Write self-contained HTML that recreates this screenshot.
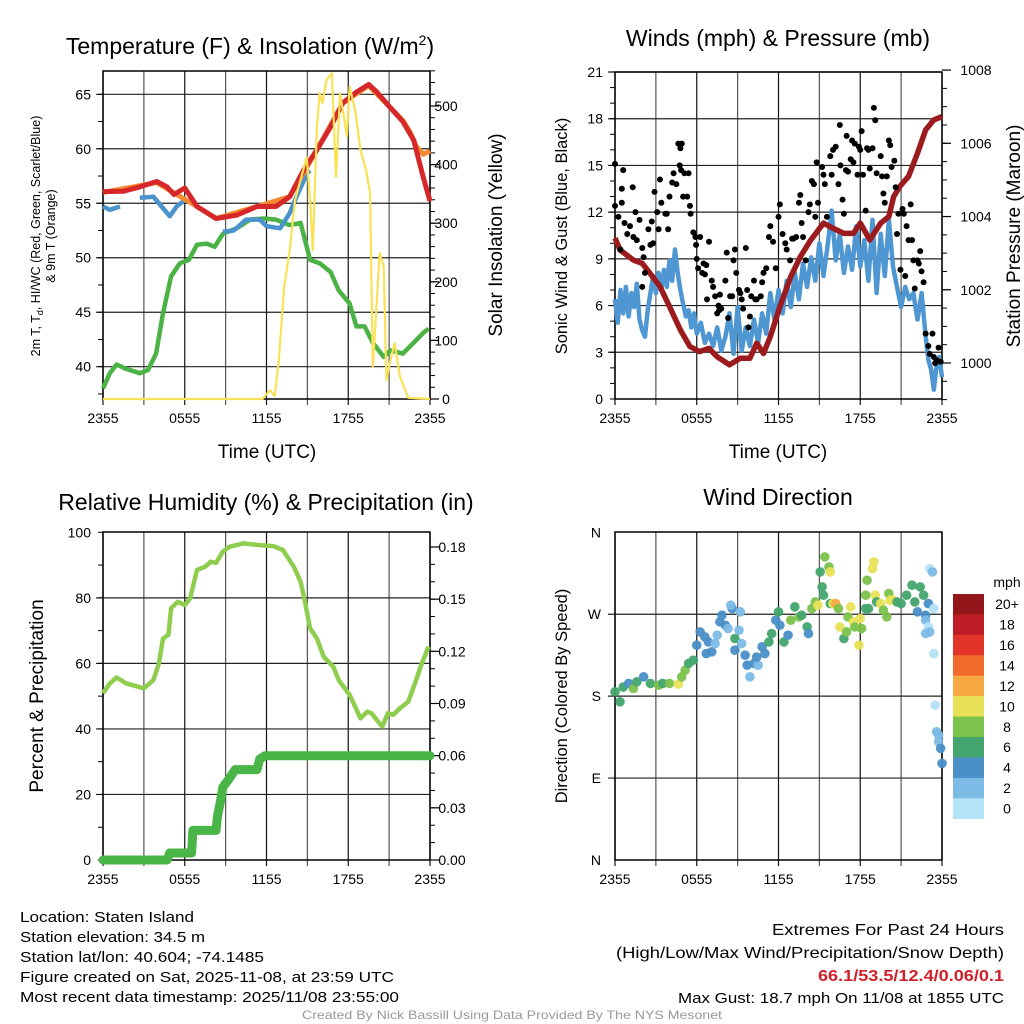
<!DOCTYPE html>
<html><head><meta charset="utf-8"><style>
html,body{margin:0;padding:0;background:#fff;}
svg{display:block;font-family:"Liberation Sans",Arial,sans-serif;}
</style></head><body>
<svg id="chart" width="1024" height="1024" viewBox="0 0 1024 1024" xmlns="http://www.w3.org/2000/svg"></svg>
<script>
// ---------- DATA ----------
const xTickLabels = ["2355","0555","1155","1755","2355"];
// Panel 1: temperature (F) & insolation
const tempHours = [0,1.5,2.7,3.94,4.7,5.2,6.0,6.9,8.3,9.8,11.3,12.7,13.7,14.7,15.7,16.7,17.6,18.6,19.5,20.1,21.0,22.0,22.8,23.5,24];
const tempVals  = [56.07,56.1,56.5,57,56.5,55.8,56.4,54.7,53.6,53.9,54.7,54.7,55.6,58,59.9,62,64.2,65.2,65.9,65.2,63.9,62.5,60.8,57.4,55.2];
const temp9mHours = [0,3.94,6.9,8.3,11.3,13.7,15.7,17.6,19.5,21.0,22.0,22.5,23.0,23.5,24];
const temp9mVals  = [56.0,56.9,54.7,53.6,54.7,55.6,59.9,64.2,65.8,63.9,62.6,61.6,60.2,59.5,59.8];
const hiwcHours = [0,0.5,1.25,null,2.7,3.7,4.3,4.9,5.4,6.0,null,8.8,9.6,10.5,11.5,12,13,13.7,14.2,15,15.2];
const hiwcVals  = [54.7,54.4,54.7,null,55.5,55.6,54.7,53.8,54.7,55.3,null,52.4,52.5,53.5,53.5,52.9,52.7,54.1,55.6,57.8,58];
const dewHours = [0,0.5,1,1.7,2.7,3.3,3.9,4.4,5,5.65,6.3,6.9,7.6,8.2,8.8,9.8,10.8,11.8,12.7,13.7,14.5,15.2,15.9,16.7,17.3,18.1,18.6,19.2,19.8,20.6,21.1,22,22.8,23.5,23.9];
const dewVals  = [38.0,39.4,40.2,39.8,39.4,39.7,41.2,44.9,48.3,49.5,49.8,51.2,51.3,51,52.2,52.7,53.5,53.6,53.5,53,53.2,49.8,49.5,48.7,47,45.8,43.7,43.7,42.2,40.9,41.5,41.2,42.2,43.1,43.5];
const solarHours = [0,11.7,12.26,12.6,12.9,13.3,13.7,14.1,14.7,14.95,15.2,15.4,15.7,15.9,16.1,16.4,16.8,17.1,17.4,17.9,18.1,18.5,18.9,19.3,19.6,19.8,20.1,20.3,20.6,20.8,21.1,21.4,21.8,22.4,24];
const solarVals  = [0,0,15,5,66,192,254,340,391,413,340,254,464,522,505,544,556,379,522,448,533,493,425,391,351,55,169,249,226,32,67,95,38,2,0];
// Panel 2: winds & pressure
const presHours = [0,0.37,0.86,1.35,2,2.57,3.3,4,4.8,5.5,6.2,6.9,7.5,8.4,9.2,9.9,10.4,10.9,11.4,12.1,12.9,13.6,14.3,15.3,16,16.8,17.5,18,18.7,19.5,20.1,20.45,20.9,21.55,22.2,22.8,23.4,24];
const presVals  = [1003.41,1003.09,1002.95,1002.81,1002.72,1002.45,1002.09,1001.54,1000.9,1000.45,1000.31,1000.4,1000.17,999.95,1000.13,1000.13,1000.54,1000.26,1000.72,1001.54,1002.36,1002.9,1003.32,1003.82,1003.68,1003.54,1003.54,1003.82,1003.36,1003.82,1004,1004.54,1004.82,1005.1,1005.73,1006.37,1006.64,1006.73];
const windHours = [0,0.2,0.4,0.6,0.8,1.0,1.2,1.4,1.6,1.8,2.0,2.2,2.4,2.6,2.8,3.0,3.2,3.4,3.6,3.8,4.0,4.2,4.4,4.6,4.8,5.0,5.2,5.4,5.6,5.8,6.0,6.3,6.6,6.9,7.2,7.5,7.8,8.1,8.4,8.7,9.0,9.3,9.6,9.9,10.2,10.5,10.8,11.1,11.4,11.7,12.0,12.3,12.6,12.9,13.2,13.5,13.8,14.1,14.4,14.7,15.0,15.3,15.6,15.9,16.2,16.5,16.8,17.1,17.4,17.7,18.0,18.3,18.6,18.9,19.2,19.5,19.8,20.1,20.4,20.7,21.0,21.3,21.6,21.9,22.2,22.5,22.8,23.0,23.2,23.4,23.6,23.8,24];
const windVals  = [6.4,4.9,7,5.5,7.2,5.3,6.8,5.9,7.4,5.1,4.4,4,5.7,6.8,7.9,6.8,8.1,7,8.3,7.2,8.9,7.6,9.6,8.1,7,6.1,5.3,5.7,4.6,5.5,4.2,4.9,3.6,4.2,3.4,4.6,3.1,4,5.5,2.9,5.9,3.1,4.6,3.4,5.1,3.6,5.5,4.2,6.8,5.1,7,5.5,7.6,5.9,8.1,6.4,8.7,7.2,9.1,7.6,10,7.9,9.8,12.1,8.9,10.6,8.1,9.8,8.3,11.1,8.5,10.2,7.6,11.5,6.8,10.6,7.9,11.5,8.5,7.2,5.9,7.2,6.4,6.8,5.1,6.8,4,2.5,1.9,0.6,2.1,2.7,1.4];
const gustHours = [0,0,0.25,0.4,0.5,0.6,0.5,0.7,0.9,1.1,1.3,1.35,1.5,1.6,1.8,2,2.1,2.2,2,2.45,2.6,2.7,2.8,2.9,3.1,3.2,3.3,3.4,3.7,3.8,3.9,4.0,4.2,4.3,4.5,4.65,4.9,4.8,4.75,4.85,5.1,5.4,5.0,5.3,5.5,5.55,5.75,5.9,5.95,6,6.25,6.1,6.4,6.5,6.7,6.6,6.9,7.1,7.2,6.75,7.35,7.5,7.6,7.65,7.7,7.8,8.1,8.2,8.3,8.45,8.6,8.7,8.8,8.9,9.1,9.2,9.3,9.4,9.6,9.7,9.8,9.9,10.0,10.2,10.3,10.4,10.7,10.8,10.9,11.1,11.3,11.4,11.6,11.8,12,12.1,12.3,12.5,12.6,12.85,13,13.1,13.3,13.5,13.6,13.7,13.8,14,14.2,14.3,14.45,14.6,14.7,14.8,14.9,15.2,15.3,15.4,15.55,15.8,15.9,16,16.2,16.4,16.5,16.55,16.7,16.8,16.95,17.0,17.1,17.3,17.4,17.5,17.6,17.8,17.9,18,18.1,18.2,18.4,18.5,18.6,18.7,19,19.1,18.9,19.2,19.5,19.6,19.7,19.8,19.95,20.1,20.2,20.3,20.5,20.6,20.7,20.8,20.95,21.1,21.2,21.3,21.4,21.55,21.7,21.8,21.9,22,22.2,22.3,22.4,22.5,22.65,22.8,23.3,23,23.1,23.4,23.6,23.75,23.9,23.5];
const gustVals  = [15.1,12.4,11.7,9.6,13.5,14.7,12.6,11.3,10.6,11.1,13.6,10.4,12.0,10.2,11.5,9.7,9.1,8.1,7.2,10.9,9.9,11.4,10,13.3,12,10.9,14.1,12.6,11.9,11.9,10.9,13,13.9,14.5,13.8,16.4,16.4,16.1,15,14.7,14.5,14.5,13,13,12.4,11.9,10.7,10.4,9.9,9,10.4,8.4,8.1,8.7,8.6,8,10.1,7.6,7.2,6.4,6.6,5.5,6,5.7,6.7,5.8,7.6,9.4,5.2,6.6,6.6,8.9,9.6,8.1,7,6.8,6.4,5.8,9.7,7,4.6,5.3,6.6,7.6,6.4,6.4,6.6,7.5,8.1,8.4,10.4,11.1,10.1,8.4,11.7,12.5,10.6,10,9.6,8.9,10.3,10.3,10.4,12.6,13.1,11.3,10.4,8.9,12,12.5,14,13.8,11.7,15.2,12.6,14.9,14.4,13.8,11.7,15.6,14.4,16,16.2,13.8,17.6,15,12.8,11.9,14.7,16.9,14.6,15.4,16.6,15.2,16.4,14.4,16.2,16,17.2,14.4,12.1,16.1,16,14.8,18.7,17.9,16.1,14.5,15.6,14.3,13.2,12.6,14.3,16.6,16.3,14.9,15.3,13.6,10.6,11.9,8.3,12.2,11.9,7.9,11.1,10.2,12.5,10.2,8.9,7.1,8.9,8.7,9.5,8.2,7.5,4.2,4.2,3.4,2.9,2.7,2.5,3.3,2.4,2.3];
// Panel 3: RH & precipitation
const rhHours = [0,0.5,1,1.7,3,3.7,4.1,4.4,4.8,5,5.5,6,6.4,6.9,7.5,7.9,8.3,8.8,9.3,10.3,11.5,12.5,13.2,14,14.5,14.8,15.2,15.7,16.2,16.9,17.3,18.1,18.5,18.9,19.4,19.7,20.1,20.5,20.9,21.3,21.8,22.4,22.9,23.4,23.9];
const rhVals  = [50.9,53.9,55.7,53.9,52.4,54.9,60,67.6,68.7,76.8,78.8,77.8,79.9,88.5,89.5,91,90.7,94.1,95.6,96.6,96.1,95.8,94.6,89.5,84.9,79.3,70.7,67.6,62,59,54.9,50.4,46.8,43.2,45.3,44.8,42.7,40.7,44.8,44.3,46.3,48.3,53.9,60,65.1];
const precipHours = [0,4.7,4.9,6.5,6.6,8.3,8.4,8.6,8.8,9.2,9.7,11.3,11.5,11.9,24];
const precipVals  = [0,0,0.004,0.004,0.017,0.017,0.025,0.033,0.042,0.046,0.052,0.052,0.058,0.06,0.06];
// Panel 4: wind direction colored by speed
const dirHours = [0,0.37,0.6,1,1.35,1.6,2.1,2.6,3.2,3.5,4,4.65,4.9,5.15,5.4,5.75,6,6.25,6.6,6.85,6.7,7.1,7.35,7.5,7.7,7.85,8.1,8.3,8.6,8.5,8.8,8.8,9.1,9.2,9.3,9.55,9.7,9.9,10.2,10.5,10.4,10.8,11,11.3,11.5,11.8,12,12.1,12.4,12.7,12.9,13.2,13.5,13.7,14.1,14.2,14.45,14.7,14.9,15.06,15.2,15.4,15.7,15.8,15.3,15.8,16,16.2,16.4,16.5,16.8,17,17.1,17.3,17.5,17.6,17.9,18,18.1,18.4,18.5,18.4,18.6,18.9,19,19.1,19.2,19.5,19.7,19.95,20.1,20.2,20.45,20.7,21,21.4,21.8,22,22.2,22.4,22.65,22.8,23,23.1,23.3,23.4,22.8,23,23.1,22.8,23.4,23.5,23.6,23.75,23.9,24,23.75];
const dirVals  = [184.8,173.8,190,194,188.4,195.7,201.2,194,192,194,194,193.2,201.2,208.5,215.9,219.5,236,250.6,245,239.6,226.8,228.7,237.8,247,261.6,268.9,257.9,254.3,276.2,279.9,243.3,230.5,252.4,272.6,237.8,225,214,201.2,215.9,214,223,234.2,226.8,239.6,248.8,263.4,272.6,257.9,239.6,247,263.4,278.1,267.1,268.9,256.1,248.8,276.2,283.5,279.9,316.5,300,333,322,316.5,290.9,281.7,281.7,281.7,276.2,256.1,243.3,250.6,267.1,278.1,261.6,256.1,236,265.2,254.3,276.2,307.3,290.9,276.2,320.1,327.5,290.9,283.5,281.7,274.4,267.1,292.7,285.4,285.4,283.5,281.7,290.9,301.9,283.5,272.6,300,290.9,268.9,281.7,320.1,316.5,276.2,263.4,256.1,250.6,248.8,226.8,170.1,140.9,129.9,122.6,106.1,137.2];
const dirSpeeds = [6,6,6,4,8,6,4,6,8,6,8,10,8,8,6,6,4,4,4,4,4,4,2,2,4,4,4,2,4,2,6,4,2,2,2,4,4,2,4,2,4,4,4,6,6,4,6,4,6,4,8,6,8,6,6,4,8,8,10,6,6,8,8,10,6,6,10,12,8,10,6,8,8,10,10,8,10,10,8,6,8,8,6,10,10,10,6,10,8,8,8,10,10,6,6,6,6,6,4,6,6,4,4,0,2,0,2,0,2,2,0,0,2,2,4,4,2];
const speedBins = ["0","2","4","6","8","10","12","14","16","18","20+"];
const speedColors = ["#b4e2f7","#7cbbe6","#4a8fc7","#45a56e","#7cc24b","#e7e157","#f7a944","#f26a2c","#e23428","#bf1d25","#93161a"];

// ---------- HELPERS ----------
const svg = document.getElementById('chart');
const NS = 'http://www.w3.org/2000/svg';
function mk(tag, attrs, parent) {
  const e = document.createElementNS(NS, tag);
  for (const k in attrs) e.setAttribute(k, attrs[k]);
  (parent || svg).appendChild(e);
  return e;
}
function txt(s, x, y, size, anchor, parent, extra) {
  const t = mk('text', Object.assign({x:x, y:y, 'font-size':size, 'text-anchor':anchor||'middle', fill:'#000'}, extra||{}), parent);
  t.textContent = s;
  return t;
}
function linScale(d0, d1, r0, r1) { return v => r0 + (v - d0) * (r1 - r0) / (d1 - d0); }
function pathD(hs, vs, xf, yf) {
  let d = '', pen = false;
  for (let i = 0; i < hs.length; i++) {
    if (hs[i] === null || vs[i] === null) { pen = false; continue; }
    d += (pen ? 'L' : 'M') + xf(hs[i]).toFixed(1) + ',' + yf(vs[i]).toFixed(1);
    pen = true;
  }
  return d;
}
function frame(L, R, T, B, gridYs, name) {
  const g = mk('g', {});
  
  
  for (let i = 0; i <= 8; i++) {
    const x = L + (R - L) * i / 8;
    mk('line', {x1:x, y1:T, x2:x, y2:B+6, stroke: i%2 ? '#555' : '#111', 'stroke-width':1.2}, g);
  }
  gridYs.forEach(y => mk('line', {x1:L-7, y1:y, x2:R, y2:y, stroke:'#222', 'stroke-width':1.2}, g));
  mk('rect', {x:L, y:T, width:R-L, height:B-T, fill:'none', stroke:'#000', 'stroke-width':1.5}, g);
  const xf = linScale(0, 24, L, R);
  const lg = mk('g', {});
  
  
  xTickLabels.forEach((s, i) => txt(s, xf(i*6), B+24, 14, 'middle', lg));
  return xf;
}
function rightTicks(R, yf, majors, minorStep, lo, hi, fmt, name, labelX) {
  const g = mk('g', {});
  
  
  for (let v = lo; v <= hi + 1e-9; v += minorStep) mk('line', {x1:R, y1:yf(v), x2:R+5, y2:yf(v), stroke:'#000', 'stroke-width':1}, g);
  majors.forEach(v => { mk('line', {x1:R, y1:yf(v), x2:R+9, y2:yf(v), stroke:'#000', 'stroke-width':1.2}, g); txt(fmt(v), labelX, yf(v)+5, 14, 'middle', g); });
}
function leftLabels(L, yf, vals, fmt, name, minorStep, lo, hi) {
  const g = mk('g', {});
  
  
  if (minorStep) for (let v = lo; v <= hi + 1e-9; v += minorStep) mk('line', {x1:L-5, y1:yf(v), x2:L, y2:yf(v), stroke:'#000', 'stroke-width':1}, g);
  vals.forEach(v => txt(fmt(v), L-12, yf(v)+5, 14, 'end', g));
}

// ---------- PANEL 1 ----------
{
  const L=103,R=430,T=71,B=399;
  const yT = linScale(40, 65, 366.7, 94.3);
  const yS = linScale(0, 500, 399, 106);
  const xf = frame(L,R,T,B,[40,45,50,55,60,65].map(yT),'temp-panel');
  leftLabels(L, yT, [40,45,50,55,60,65], v=>v, 'temp-y-tick-labels', 2.5, 37.5, 65);
  rightTicks(R, yS, [0,100,200,300,400,500], 20, 0, 560, v=>v, 'solar-y-ticks', 446);
  let p;
  p = mk('path', {d:pathD(dewHours, dewVals, xf, yT), fill:'none', stroke:'#4bb245', 'stroke-width':4.5, 'stroke-linejoin':'round'});
   
  p = mk('path', {d:pathD(hiwcHours, hiwcVals, xf, yT), fill:'none', stroke:'#4b93cc', 'stroke-width':4.5, 'stroke-linejoin':'round'});
   
  p = mk('path', {d:pathD(temp9mHours, temp9mVals, xf, yT), fill:'none', stroke:'#f58a32', 'stroke-width':5, 'stroke-linejoin':'round'});
   
  p = mk('path', {d:pathD(tempHours, tempVals, xf, yT), fill:'none', stroke:'#d6282b', 'stroke-width':5, 'stroke-linejoin':'round'});
   
  p = mk('path', {d:pathD(solarHours, solarVals.map(v=>Math.min(v,557)), xf, yS), fill:'none', stroke:'#fae257', 'stroke-width':2.2, 'stroke-linejoin':'round'});
   
  const t = txt('Temperature (F) & Insolation (W/m', 250, 54, 23, 'middle');
   
  const sup = mk('tspan', {dy:-9, 'font-size':14}, t); sup.textContent = '2';
  const cl = mk('tspan', {dy:9}, t); cl.textContent = ')';
  const xt = txt('Time (UTC)', 267, 458, 19, 'middle');
   
  const yt = mk('text', {transform:'translate(40,236) rotate(-90)', 'font-size':12.5, 'text-anchor':'middle'});
   
  const a = mk('tspan', {x:0, y:0}, yt); a.textContent = '2m T, T';
  const ad = mk('tspan', {dy:3, 'font-size':9}, yt); ad.textContent = 'd';
  const ab = mk('tspan', {dy:-3}, yt); ab.textContent = ', HI/WC (Red, Green, Scarlet/Blue)';
  const b2 = mk('tspan', {x:0, y:15}, yt); b2.textContent = '& 9m T (Orange)';
  const rt = txt('Solar Insolation (Yellow)', 0, 0, 19, 'middle', null, {transform:'translate(502,235) rotate(-90)'});
   
}

// ---------- PANEL 2 ----------
{
  const L=615,R=942,T=72,B=399;
  const yW = linScale(0, 21, 399, 72);
  const yP = linScale(1000, 1006, 363, 143.3);
  const xf = frame(L,R,T,B,[3,6,9,12,15,18,21].map(yW),'wind-panel');
  leftLabels(L, yW, [0,3,6,9,12,15,18,21], v=>v, 'wind-y-tick-labels', 1, 0, 21);
  rightTicks(R, yP, [1000,1002,1004,1006,1008], 0.5, 999, 1008, v=>v, 'pressure-y-ticks', 976);
  let p = mk('path', {d:pathD(windHours, windVals, xf, yW), fill:'none', stroke:'#4f97d2', 'stroke-width':4.5, 'stroke-linejoin':'round'});
   
  p = mk('path', {d:pathD(presHours, presVals, xf, yP), fill:'none', stroke:'#9b1b1e', 'stroke-width':5.5, 'stroke-linejoin':'round'});
   
  const g = mk('g', {});
   
  for (let i = 0; i < gustHours.length; i++) {
    const c = mk('circle', {cx:xf(gustHours[i]), cy:yW(gustVals[i]), r:3, fill:'#000'}, g);
    
    
  }
  const t = txt('Winds (mph) & Pressure (mb)', 778, 46, 23, 'middle');
   
  const xt = txt('Time (UTC)', 778, 458, 19, 'middle');
   
  const yt = txt('Sonic Wind & Gust (Blue, Black)', 0, 0, 16.5, 'middle', null, {transform:'translate(567,236) rotate(-90)'});
   
  const rt = txt('Station Pressure (Maroon)', 0, 0, 19, 'middle', null, {transform:'translate(1020,236) rotate(-90)'});
   
}

// ---------- PANEL 3 ----------
{
  const L=103,R=430,T=532,B=860;
  const yR = linScale(0, 100, 860, 532.3);
  const yPr = linScale(0, 0.18, 860, 547);
  const xf = frame(L,R,T,B,[20,40,60,80].map(yR),'rh-panel');
  leftLabels(L, yR, [0,20,40,60,80,100], v=>v, 'rh-y-tick-labels', 10, 0, 100);
  rightTicks(R, yPr, [0,0.03,0.06,0.09,0.12,0.15,0.18], 0.01, 0, 0.188, v=>v.toFixed(2), 'precip-y-ticks', 452);
  let p = mk('path', {d:pathD(rhHours, rhVals, xf, yR), fill:'none', stroke:'#8fcd4f', 'stroke-width':4.5, 'stroke-linejoin':'round'});
   
  p = mk('path', {d:pathD(precipHours, precipVals, xf, yPr), fill:'none', stroke:'#48b546', 'stroke-width':9, 'stroke-linejoin':'round', 'stroke-linecap':'round'});
   
  const t = txt('Relative Humidity (%) & Precipitation (in)', 266, 510, 23, 'middle');
   
  const yt = txt('Percent & Precipitation', 0, 0, 19, 'middle', null, {transform:'translate(43,696) rotate(-90)'});
   
}

// ---------- PANEL 4 ----------
{
  const L=615,R=942,T=532,B=860;
  const yD = linScale(0, 360, 860, 532.3);
  const xf = frame(L,R,T,B,[90,180,270].map(yD),'direction-panel');
  const lg = mk('g', {});
   
  [['N',0],['E',90],['S',180],['W',270],['N',360]].forEach(a => txt(a[0], L-14, yD(a[1])+5, 14, 'end', lg));
  const g = mk('g', {});
   
  for (let i = 0; i < dirHours.length; i++) {
    const bin = Math.min(10, Math.max(0, Math.floor(dirSpeeds[i] / 2)));
    const c = mk('circle', {cx:xf(dirHours[i]), cy:yD(dirVals[i]), r:4.8, fill:speedColors[bin], 'fill-opacity':0.95}, g);
    
    
  }
  const t = txt('Wind Direction', 778, 505, 23, 'middle');
   
  const yt = txt('Direction (Colored By Speed)', 0, 0, 16.5, 'middle', null, {transform:'translate(567,696) rotate(-90)'});
   
  const lgd = mk('g', {});
   
  const mt = txt('mph', 1007, 587, 14, 'middle', lgd);
   
  const top = 594, h = 224.7/11;
  for (let i = 0; i < 11; i++) {
    const idx = 10 - i;
    const r = mk('rect', {x:953, y:top+i*h, width:31, height:h+0.3, fill:speedColors[idx]}, lgd);
    
    
    const lt = txt(speedBins[idx], 1007, top+i*h+h/2+5, 14, 'middle', lgd);
    
    
  }
}

// ---------- FOOTER TEXT ----------
{
  const info = mk('g', {});
   
  const lines = [['Location: Staten Island',922,174],['Station elevation: 34.5 m',942,185],['Station lat/lon: 40.604; -74.1485',962,244],['Figure created on Sat, 2025-11-08, at 23:59 UTC',982,374],['Most recent data timestamp: 2025/11/08 23:55:00',1002,379]];
  lines.forEach(l => txt(l[0], 20, l[1], 15, 'start', info, {textLength:l[2], lengthAdjust:'spacingAndGlyphs'}));
  const ext = mk('g', {});
   
  txt('Extremes For Past 24 Hours', 1004, 935, 16, 'end', ext, {textLength:232, lengthAdjust:'spacingAndGlyphs'});
  txt('(High/Low/Max Wind/Precipitation/Snow Depth)', 1004, 958, 16, 'end', ext, {textLength:388, lengthAdjust:'spacingAndGlyphs'});
  txt('66.1/53.5/12.4/0.06/0.1', 1004, 981, 16, 'end', ext, {fill:'#d0202a', 'font-weight':'bold', textLength:186, lengthAdjust:'spacingAndGlyphs'});
  txt('Max Gust: 18.7 mph On 11/08 at 1855 UTC', 1004, 1003, 15, 'end', ext, {textLength:326, lengthAdjust:'spacingAndGlyphs'});
  const cr = txt('Created By Nick Bassill Using Data Provided By The NYS Mesonet', 512, 1019, 12, 'middle', null, {fill:'#999', textLength:420, lengthAdjust:'spacingAndGlyphs'});
   
}
</script>
</body></html>
